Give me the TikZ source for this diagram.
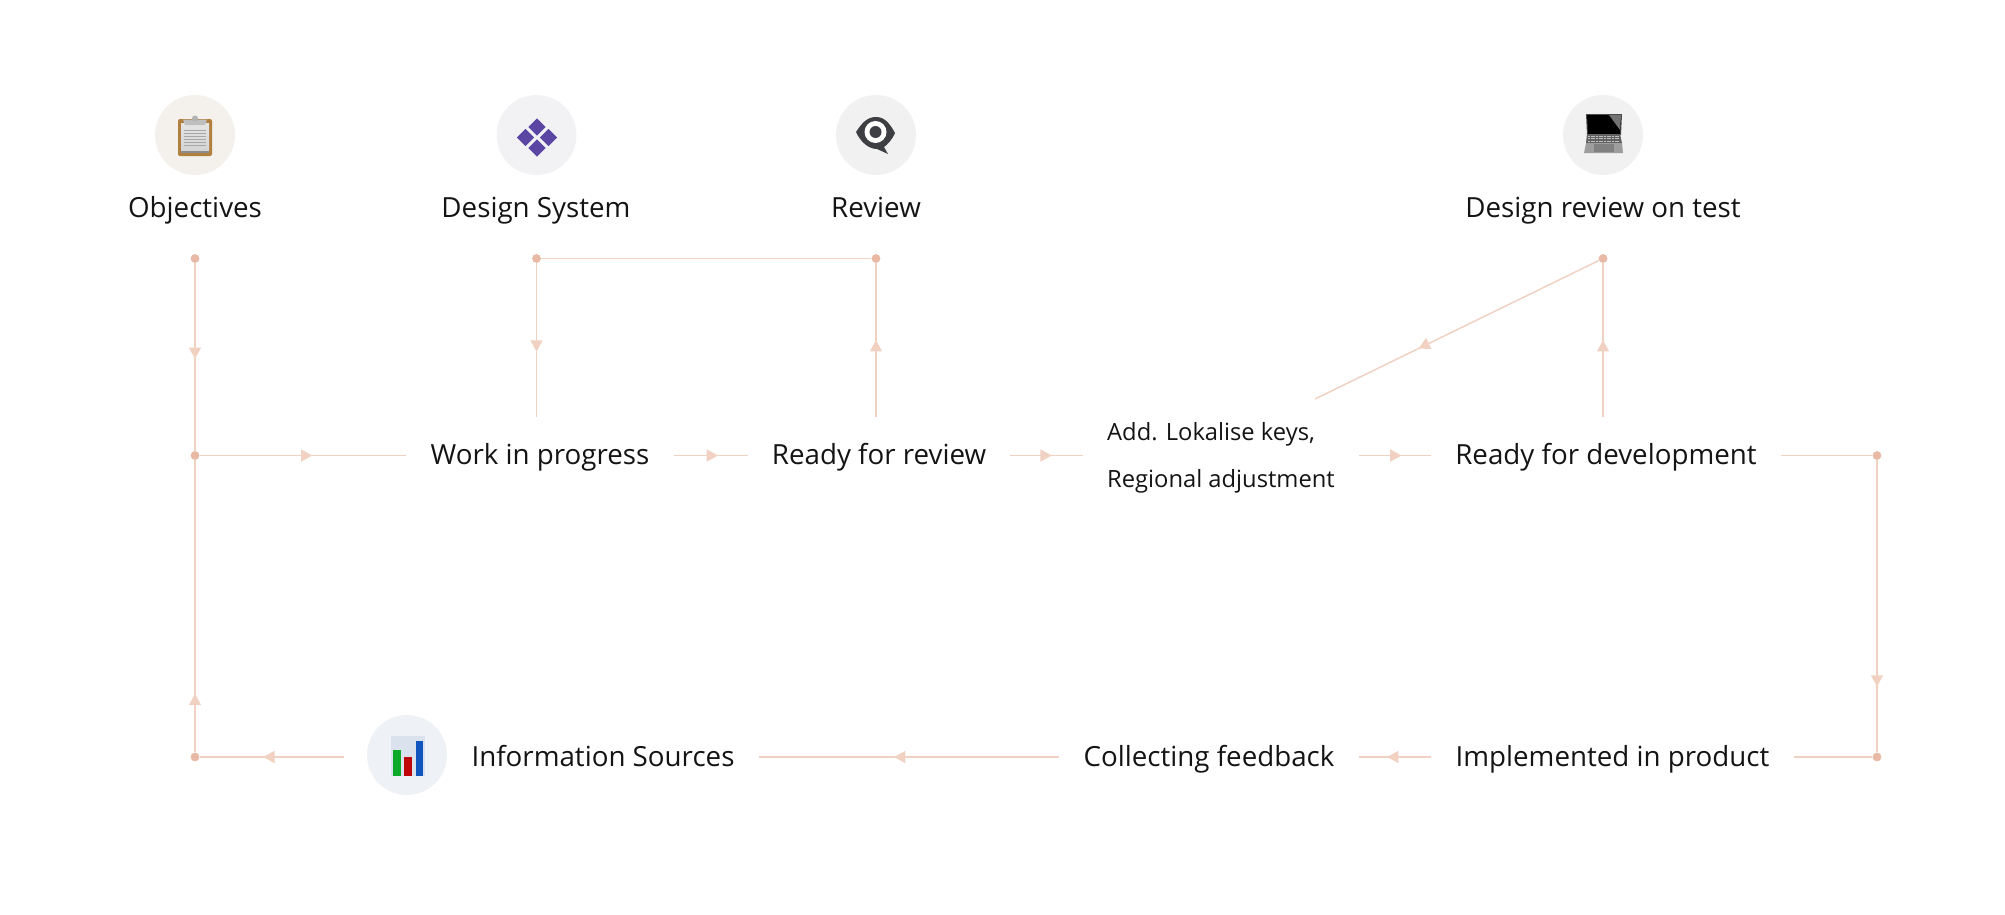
\documentclass[tikz,border=0pt]{standalone}
\usepackage{fontspec}
\setmainfont{Open Sans}
\usetikzlibrary{arrows.meta,decorations.markings}
\definecolor{flow}{HTML}{F0D1C2}
\definecolor{flowdot}{HTML}{E8B9A4}
\definecolor{ink}{HTML}{141414}
\tikzset{
  x=0.75pt,y=-0.75pt,
  flowline/.style={draw=flow,line width=1.1pt},
  midarrow/.style={postaction={decorate},decoration={markings,mark=at position #1 with {\arrow[flow]{Triangle[length=8.5pt,width=9pt]}}}},
  flowdotnode/.style={circle,fill=flowdot,inner sep=0pt,minimum size=6.6pt},
  iconbg/.style={circle,inner sep=0pt,minimum size=60pt},
  title/.style={font=\fontsize{20.8}{24}\selectfont,text=ink,inner sep=0pt,anchor=base},
  stage/.style={font=\fontsize{20.8}{24}\selectfont,text=ink,inner xsep=18pt,inner ysep=0pt,minimum height=57pt,text height=19pt,text depth=5pt},
}
\begin{document}
\begin{tikzpicture}
\useasboundingbox (0,0) rectangle (2005,914);
% icon backgrounds
\node[iconbg,fill={rgb,255:red,244;green,241;blue,236}] (iobj) at (195,135) {};
\node[iconbg,fill={rgb,255:red,242;green,242;blue,245}] (ids) at (536.5,135) {};
\node[iconbg,fill={rgb,255:red,241;green,241;blue,242}] (irev) at (876,135) {};
\node[iconbg,fill={rgb,255:red,241;green,241;blue,242}] (ilap) at (1603,135) {};
\node[iconbg,fill={rgb,255:red,238;green,241;blue,245},outer sep=17.25pt] (chart) at (407,755) {};
% clipboard
\fill[rounded corners=1.5pt,fill={rgb,255:red,178;green,128;blue,62}] (178,119) rectangle (212,156);
\shade[top color=black!10,bottom color=black!17] (181,123) rectangle (209,151);
\fill[black!45] (181,151) -- (209,151) -- (209,153) -- (181,153) -- cycle;
\fill[black!25] (183,119.5) -- (207,119.5) -- (205,125) -- (185,125) -- cycle;
\fill[black!30] (195,118.5) circle (3);
\foreach \yy in {130,133,136,139,142,145} \draw[black!35,line width=0.5pt] (184,\yy) -- (206,\yy);
% diamonds
\foreach \cx/\cy in {537/127,525.5/137.5,548.5/137.5,537/148}
  \fill[fill={rgb,255:red,91;green,70;blue,163}] (\cx-8.7,\cy) -- (\cx,\cy-8.7) -- (\cx+8.7,\cy) -- (\cx,\cy+8.7) -- cycle;
% eye
\fill[fill={rgb,255:red,62;green,63;blue,66}] (856,132) .. controls (862,123) and (867,117) .. (876,117) .. controls (885,117) and (890,124) .. (895,133) .. controls (892,140) and (887,145) .. (884,147) -- (888,154) -- (877,149) .. controls (868,149) and (860,141) .. (856,132) -- cycle;
\fill[white] (875.5,132) circle (11);
\fill[fill={rgb,255:red,62;green,63;blue,66}] (875.5,132) circle (6);
% laptop
\fill[black!70] (1586,114) -- (1622,114) -- (1621,135) -- (1587,135) -- cycle;
\fill[black] (1587,115) -- (1621,115) -- (1620,134) -- (1588,134) -- cycle;
\fill[black!55] (1609,115) -- (1621,115) -- (1620,130) -- cycle;
\fill[black!62] (1587,134) -- (1620,134) -- (1622,143) -- (1586,143) -- cycle;
\foreach \yy in {136,138.5,141} \draw[black!25,line width=0.7pt,dash pattern=on 1.5pt off 0.5pt] (1588,\yy) -- (1620,\yy);
\fill[black!38] (1586,143) -- (1622,143) -- (1623,153) -- (1584,153) -- cycle;
\fill[black!50] (1594,144) rectangle (1614,152);
% bar chart
\fill[fill={rgb,255:red,218;green,226;blue,238}] (391,736) rectangle (425,776);
\fill[fill={rgb,255:red,12;green,170;blue,40}] (393,750) rectangle (401,776);
\fill[fill={rgb,255:red,190;green,6;blue,10}] (404,757) rectangle (412,776);
\fill[fill={rgb,255:red,16;green,86;blue,190}] (416,741) rectangle (423,776);
% titles
\node[title] (tobj) at (195,217) {Objectives};
\node[title] (tds) at (536,217) {Design System};
\node[title] (trev) at (876,217) {Review};
\node[title] (tdr) at (1603,217) {Design review on test};
% stages
\node[stage] (wip) at (540,455.5) {Work in progress};
\node[stage] (rfr) at (879,455.5) {Ready for review};
\node[stage,font=\fontsize{17.8}{35}\selectfont,align=left,text height=,text depth=] (lok) at (1221,458) {Add. Lokalise keys,\\Regional adjustment};
\node[stage] (rfd) at (1606,455.5) {Ready for development};
\node[stage] (impl) at (1612.5,757) {Implemented in product};
\node[stage] (coll) at (1209,757) {Collecting feedback};
\node[stage] (info) at (603,757) {Information Sources};
% dots
\node[flowdotnode] (dobj) at (195,258.5) {};
\node[flowdotnode] (dds) at (536.5,258.5) {};
\node[flowdotnode] (drev) at (876,258.5) {};
\node[flowdotnode] (ddr) at (1603,258.5) {};
\node[flowdotnode] (jleft) at (195,455.5) {};
\node[flowdotnode] (dbl) at (195,757) {};
\node[flowdotnode] (jright) at (1877,455.5) {};
\node[flowdotnode] (dbr) at (1877,757) {};
\coordinate (lokt) at (1315,399);
\coordinate (wipt) at (536.5,417);
\coordinate (rfrt) at (876,417);
\coordinate (rfdt) at (1603,417);
% connectors
\draw[flowline,midarrow=.51] (dobj) -- (jleft);
\draw[flowline,midarrow=.545] (jleft) -- (wip.west);
\draw[flowline,midarrow=.6] (wip.east) -- (rfr.west);
\draw[flowline,midarrow=.57] (rfr.east) -- (rfr.east -| lok.west);
\draw[flowline,midarrow=.59] (rfd.west -| lok.east) -- (rfd.west);
\draw[flowline] (dds) -- (drev);
\draw[flowline,midarrow=.575] (dds) -- (wipt);
\draw[flowline,midarrow=.5] (rfrt) -- (drev);
\draw[flowline,midarrow=.5] (rfdt) -- (ddr);
\draw[flowline,midarrow=.635] (ddr) -- (lokt);
\draw[flowline] (rfd.east) -- (jright);
\draw[flowline,midarrow=.775] (jright) -- (dbr);
\draw[flowline] (dbr) -- (impl.east);
\draw[flowline,midarrow=.61] (impl.west) -- (coll.east);
\draw[flowline,midarrow=.55] (coll.west) -- (info.east);
\draw[flowline,midarrow=.56] (chart.west |- dbl) -- (dbl);
\draw[flowline,midarrow=.2] (dbl) -- (jleft);
\end{tikzpicture}
\end{document}
